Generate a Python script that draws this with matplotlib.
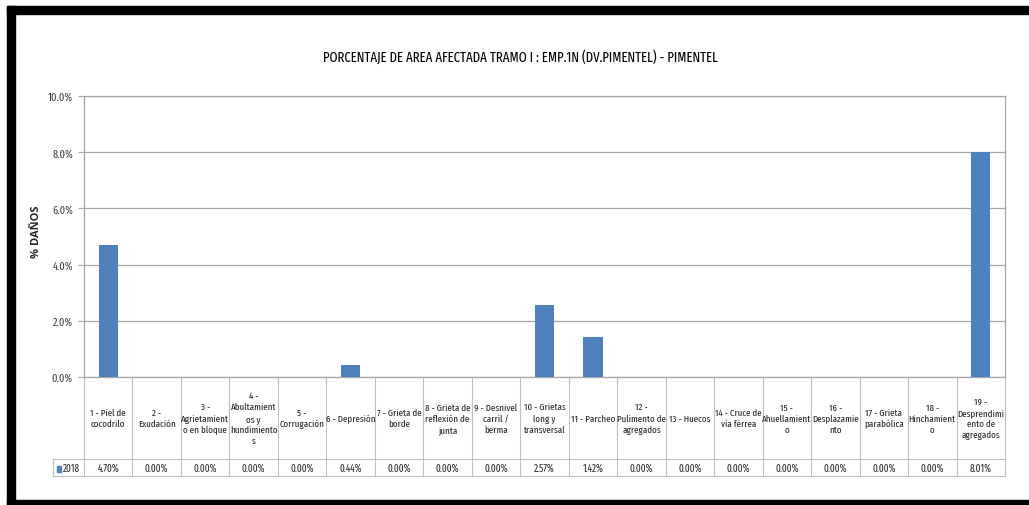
import matplotlib.pyplot as plt
from matplotlib.patches import Rectangle
from matplotlib.lines import Line2D

plt.rcParams['font.family'] = ['Fira Sans Extra Condensed', 'Roboto Condensed', 'DejaVu Sans']

categories = [
    "1 - Piel de\ncocodrilo",
    "2 -\nExudación",
    "3 -\nAgrietamient\no en bloque",
    "4 -\nAbultamient\nos y\nhundimiento\ns",
    "5 -\nCorrugación",
    "6 - Depresión",
    "7 - Grieta de\nborde",
    "8 - Grieta de\nreflexión de\njunta",
    "9 - Desnivel\ncarril /\nberma",
    "10 - Grietas\nlong y\ntransversal",
    "11 - Parcheo",
    "12 -\nPulimento de\nagregados",
    "13 - Huecos",
    "14 - Cruce de\nvía férrea",
    "15 -\nAhuellamient\no",
    "16 -\nDesplazamie\nnto",
    "17 - Grieta\nparabólica",
    "18 -\nHinchamient\no",
    "19 -\nDesprendimi\nento de\nagregados",
]
values_2018 = [4.70, 0.00, 0.00, 0.00, 0.00, 0.44, 0.00, 0.00, 0.00, 2.57,
               1.42, 0.00, 0.00, 0.00, 0.00, 0.00, 0.00, 0.00, 8.01]
series_name = "2018"
y_ticks = [0, 2, 4, 6, 8, 10]

bar_color = "#4F81BD"
grid_color = "#A6A6A6"
table_color = "#BFBFBF"
text_color = "#404040"

fig = plt.figure(figsize=(10.29, 5.06), dpi=100)
ax = fig.add_axes([84 / 1029, 128 / 506, 921 / 1029, 281 / 506])

n = len(categories)
x = list(range(n))
ax.bar(x, values_2018, width=0.4, color=bar_color, zorder=3)
ax.set_xlim(-0.5, n - 0.5)
ax.set_ylim(0, 10)
ax.set_yticks(y_ticks)
ax.set_yticklabels([f"{v:.1f}%" for v in y_ticks], fontsize=8, color=text_color)
ax.tick_params(axis='y', length=4, color=grid_color, pad=4)
ax.tick_params(axis='x', bottom=False, labelbottom=False)
ax.yaxis.grid(True, color=grid_color, linewidth=0.9, zorder=0)
for side in ['left', 'right', 'top', 'bottom']:
    ax.spines[side].set_color(grid_color)
    ax.spines[side].set_linewidth(0.9)

ax.set_ylabel("% DAÑOS", fontsize=8, fontweight='bold', color='#262626',
              family=['Open Sans', 'DejaVu Sans'])
ax.yaxis.set_label_coords(-0.046, 0.52)

# data table under the axis
row1 = -0.292
row2 = -0.352
tr = ax.get_xaxis_transform()
for i in range(n + 1):
    xb = i - 0.5
    ax.add_line(Line2D([xb, xb], [0, row2], transform=tr, color=table_color,
                       linewidth=0.8, clip_on=False))
for yb in (row1, row2):
    ax.add_line(Line2D([-1.13, n - 0.5], [yb, yb], transform=tr,
                       color=table_color, linewidth=0.8, clip_on=False))
ax.add_line(Line2D([-1.13, -1.13], [row1, row2], transform=tr,
                   color=table_color, linewidth=0.8, clip_on=False))

for i, (lab, v) in enumerate(zip(categories, values_2018)):
    ax.text(i, row1 / 2, lab, transform=tr, ha='center', va='center',
            fontsize=7, color='#262626', linespacing=1.3, clip_on=False)
    ax.text(i, (row1 + row2) / 2, f"{v:.2f}%", transform=tr, ha='center',
            va='center', fontsize=7.2, color='#262626', clip_on=False)

ax.add_patch(Rectangle((-1.06, row1 - 0.047), 0.09, 0.023, transform=tr,
                       color=bar_color, clip_on=False))
ax.text(-0.93, (row1 + row2) / 2, series_name, transform=tr, ha='left',
        va='center', fontsize=7.2, color='#262626', clip_on=False)

fig.text(520 / 1029, 1 - 57 / 506,
         "PORCENTAJE DE AREA AFECTADA TRAMO I : EMP.1N (DV.PIMENTEL) - PIMENTEL",
         ha='center', va='center', fontsize=10, color='black')

# black frame around the chart
fig.add_artist(Rectangle((7 / 1029, 1 - 15 / 506), 1, 8 / 506,
                         transform=fig.transFigure, color='black'))
fig.add_artist(Rectangle((7 / 1029, 0), 8 / 1029, 1 - 7 / 506,
                         transform=fig.transFigure, color='black'))
fig.add_artist(Rectangle((7 / 1029, 0), 1, 5 / 506,
                         transform=fig.transFigure, color='black'))

fig.savefig("out.png", dpi=100)
